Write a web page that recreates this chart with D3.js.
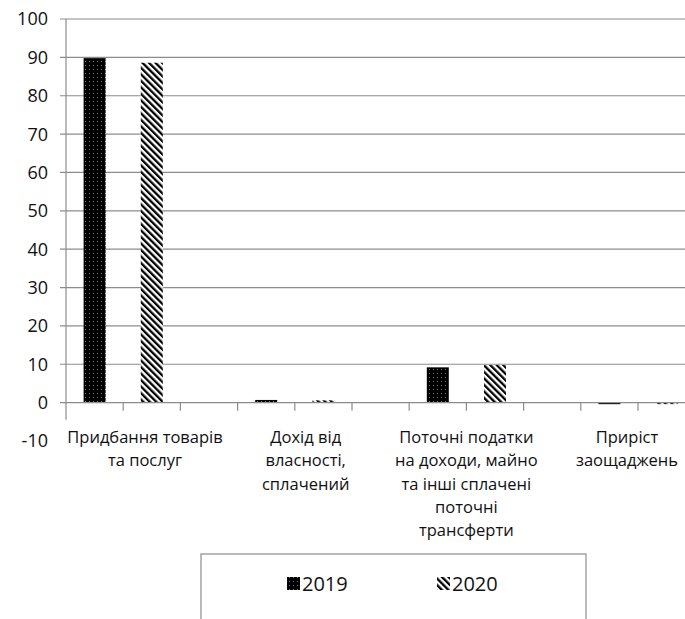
<!DOCTYPE html>
<html><head><meta charset="utf-8">
<script src="https://cdn.jsdelivr.net/npm/d3@7"></script>
<style>html,body{margin:0;padding:0;background:#fff;overflow:hidden}</style>
</head><body>
<svg id="c" width="685" height="619"></svg>
<script>
// ---- data ----
const categories = [
  ["Придбання товарів", "та послуг"],
  ["Дохід від", "власності,", "сплачений"],
  ["Поточні податки", "на доходи, майно", "та інші сплачені", "поточні", "трансферти"],
  ["Приріст", "заощаджень"]
];
const seriesNames = ["2019", "2020"];
const values2019 = [89.8, 0.7, 9.2, -0.4];
const values2020 = [88.6, 0.6, 9.8, -0.3];
const yTicks = [-10, 0, 10, 20, 30, 40, 50, 60, 70, 80, 90, 100];

const svg = d3.select("#c");
const font = "'Open Sans', sans-serif";
const defs = svg.append("defs");

// patterns
const dots = defs.append("pattern").attr("id","dots").attr("patternUnits","userSpaceOnUse")
  .attr("width",4).attr("height",4);
dots.append("rect").attr("width",4).attr("height",4).attr("fill","#000");
dots.append("rect").attr("x",1).attr("y",1).attr("width",1).attr("height",1).attr("fill","#777");
const hatch = defs.append("pattern").attr("id","hatch").attr("patternUnits","userSpaceOnUse")
  .attr("width",4.6).attr("height",4.6).attr("patternTransform","rotate(-45)");
hatch.append("rect").attr("width",4.6).attr("height",4.6).attr("fill","#fff");
hatch.append("rect").attr("width",2.3).attr("height",4.6).attr("fill","#000");

// scales
const plotLeft = 66, plotTop = 19, slotW = 57.2, nSlots = 12;
const y = d3.scaleLinear().domain([-10, 100]).range([441, plotTop]);
const x = d3.scaleBand().domain(d3.range(nSlots)).range([plotLeft, plotLeft + slotW*nSlots]).paddingInner(0).paddingOuter(0);
const barW = 22;
const labelX = d3.scaleLinear().domain([0, 3]).range([145, 627]);

// gridlines
svg.append("g").selectAll("line").data(yTicks.filter(t => t > 0)).join("line")
  .attr("x1", plotLeft - 6).attr("x2", 700).attr("y1", d => y(d)).attr("y2", d => y(d))
  .attr("stroke","#8c8c8c").attr("stroke-width",1.2);

// y labels
svg.append("g").selectAll("text").data(yTicks).join("text")
  .attr("x", 48).attr("y", d => y(d)).attr("dy","0.36em").attr("text-anchor","end")
  .attr("font-family",font).attr("font-size",18).attr("fill","#111").text(d => d);

// bars
const bars = [];
categories.forEach((c, i) => {
  bars.push({slot: i*3, v: values2019[i], fill: "url(#dots)"});
  bars.push({slot: i*3+1, v: values2020[i], fill: "url(#hatch)"});
});
svg.append("g").selectAll("rect").data(bars).join("rect")
  .attr("x", d => x(d.slot) + (x.bandwidth()-barW)/2)
  .attr("width", barW)
  .attr("y", d => y(Math.max(0, d.v)))
  .attr("height", d => Math.max(1.5, Math.abs(y(d.v) - y(0))))
  .attr("fill", d => d.fill);

// axes lines
svg.append("line").attr("x1", plotLeft).attr("x2", plotLeft).attr("y1", y(100)).attr("y2", y(0) + 17)
  .attr("stroke","#8c8c8c").attr("stroke-width",1.2);
svg.append("line").attr("x1", plotLeft - 6).attr("x2", 700).attr("y1", y(0)).attr("y2", y(0))
  .attr("stroke","#8c8c8c").attr("stroke-width",1.2);
svg.append("g").selectAll("line").data(d3.range(1, nSlots)).join("line")
  .attr("x1", d => x(d)).attr("x2", d => x(d)).attr("y1", y(0)).attr("y2", y(0) + 8)
  .attr("stroke","#8c8c8c").attr("stroke-width",1.2);

// category labels
const cl = svg.append("g").attr("font-family",font).attr("font-size",16.5).attr("fill","#111")
  .attr("text-anchor","middle");
categories.forEach((lines, i) => {
  lines.forEach((t, j) => {
    cl.append("text").attr("x", labelX(i)).attr("y", 443 + j*23.3).text(t);
  });
});

// legend
const lg = svg.append("g");
lg.append("rect").attr("x", 201).attr("y", 554).attr("width", 385).attr("height", 100)
  .attr("fill","none").attr("stroke","#8c8c8c").attr("stroke-width",1.2);
const items = [{name: seriesNames[0], fill: "url(#dots)", x: 287}, {name: seriesNames[1], fill: "url(#hatch)", x: 437}];
items.forEach(it => {
  lg.append("rect").attr("x", it.x).attr("y", 577).attr("width", 13).attr("height", 13).attr("fill", it.fill);
  lg.append("text").attr("x", it.x + 15).attr("y", 591).attr("font-family",font).attr("font-size",20)
    .attr("fill","#111").text(it.name);
});
</script>
</body></html>
